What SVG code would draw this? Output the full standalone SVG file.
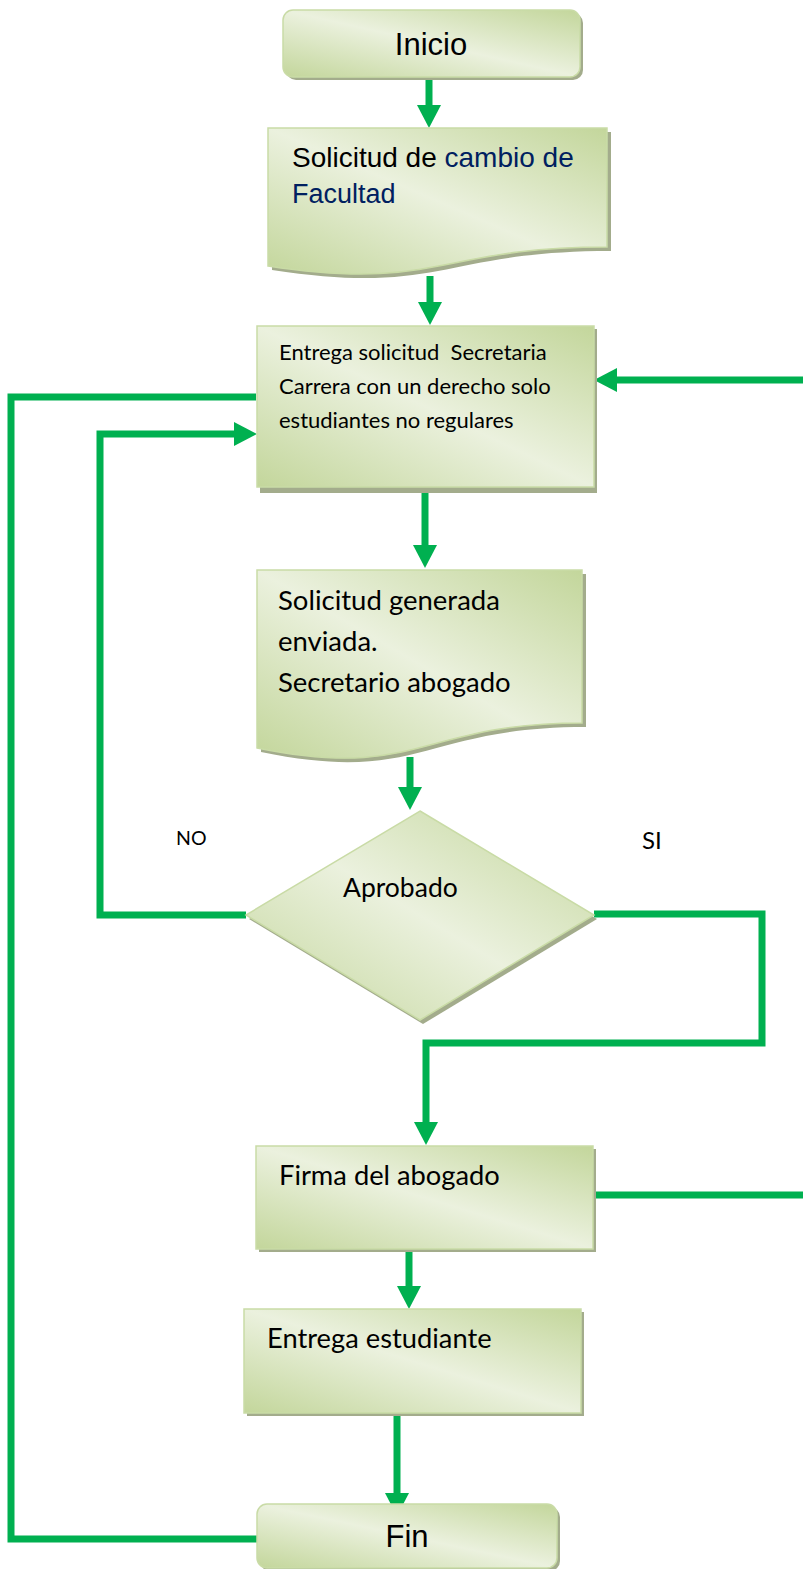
<svg xmlns="http://www.w3.org/2000/svg" width="803" height="1569" viewBox="0 0 803 1569">
  <defs>
    <linearGradient id="fillGreen" x1="1" y1="0" x2="0" y2="1">
      <stop offset="0" stop-color="#c3d69b"/>
      <stop offset="0.5" stop-color="#ebf1de"/>
      <stop offset="1" stop-color="#c3d69b"/>
    </linearGradient>
    <marker id="head" markerUnits="userSpaceOnUse" markerWidth="24" markerHeight="24" refX="2" refY="12" orient="auto" overflow="visible">
      <path d="M0,0 L23,12 L0,24 Z" fill="#00b050"/>
    </marker>
  </defs>
  <style>
    .shape { fill: url(#fillGreen); stroke: #c9dba6; stroke-width: 1.5; }
    .shadow { fill: #a3ac8c; }
    .flow { fill: none; stroke: #00b050; stroke-width: 7; stroke-linejoin: miter; stroke-linecap: butt; }
    .arial { font-family: "Liberation Sans", Arial, sans-serif; fill: #000; }
    .cal { font-family: Lato, "Liberation Sans", sans-serif; fill: #000; white-space: pre; }
    .navy { fill: #002060; }
  </style>

  <rect width="803" height="1569" fill="#ffffff"/>

  <!-- connectors -->
  <g id="connectors">
    <path class="flow" d="M429,77 V107" marker-end="url(#head)"/>
    <path class="flow" d="M430,276 V304" marker-end="url(#head)"/>
    <path class="flow" d="M803,380 H615" marker-end="url(#head)"/>
    <path class="flow" d="M256,397 H11 V1539 H257"/>
    <path class="flow" d="M246,915 H100 V434 H236" marker-end="url(#head)"/>
    <path class="flow" d="M425,487 V547" marker-end="url(#head)"/>
    <path class="flow" d="M410,757 V789" marker-end="url(#head)"/>
    <path class="flow" d="M594,914 H762 V1043 H426 V1124" marker-end="url(#head)"/>
    <path class="flow" d="M594,1195 H803"/>
    <path class="flow" d="M409,1249 V1288" marker-end="url(#head)"/>
    <path class="flow" d="M397,1414 V1495" marker-end="url(#head)"/>
  </g>

  <!-- start terminator -->
  <g id="inicio">
    <rect class="shadow" x="286" y="13" width="297" height="67" rx="10"/>
    <rect class="shape" x="283" y="10" width="297" height="67" rx="10"/>
    <text class="arial" x="431" y="55" font-size="31" text-anchor="middle">Inicio</text>
  </g>

  <!-- request document -->
  <g id="solicitud">
    <path class="shadow" d="M272,132 H611 V251 C441.5,251 441.5,296 272,270 Z"/>
    <path class="shape" d="M268,128 H607 V247 C437.5,247 437.5,292 268,266 Z"/>
    <text class="arial" font-size="28" x="292" y="167">Solicitud de <tspan class="navy">cambio de</tspan></text>
    <text class="arial navy" font-size="27" x="292" y="203">Facultad</text>
  </g>

  <!-- delivery to the secretary -->
  <g id="entrega-solicitud">
    <rect class="shadow" x="260" y="329" width="337" height="164"/>
    <rect class="shape" x="257" y="326" width="337" height="161"/>
    <text class="cal" font-size="22" x="279" y="360" xml:space="preserve">Entrega solicitud  Secretaria</text>
    <text class="cal" font-size="22" x="279" y="394">Carrera con un derecho solo</text>
    <text class="cal" font-size="22" x="279" y="428">estudiantes no regulares</text>
  </g>

  <!-- generated request document -->
  <g id="solicitud-generada">
    <path class="shadow" d="M261,574 H586 V727 C421.5,727 421.5,785 261,752 Z"/>
    <path class="shape" d="M257,570 H582 V723 C419.5,723 419.5,781 257,748 Z"/>
    <text class="cal" font-size="27.5" x="278" y="610">Solicitud generada</text>
    <text class="cal" font-size="27.5" x="278" y="651">enviada.</text>
    <text class="cal" font-size="27.5" x="278" y="692">Secretario abogado</text>
  </g>

  <!-- decision -->
  <g id="aprobado">
    <path class="shadow" d="M422,815 L597,919 L423,1024 L249,919 Z"/>
    <path class="shape" d="M420,811 L594,915 L420,1020 L246,915 Z"/>
    <text class="cal" font-size="26.5" x="343" y="897">Aprobado</text>
  </g>

  <!-- branch labels -->
  <g id="labels">
    <text class="cal" font-size="19.5" x="176" y="845">NO</text>
    <text class="cal" font-size="24" x="642" y="849">SI</text>
  </g>

  <!-- lawyer signature -->
  <g id="firma">
    <rect class="shadow" x="259" y="1149" width="337" height="103"/>
    <rect class="shape" x="256" y="1146" width="337" height="103"/>
    <text class="cal" font-size="27.3" x="279" y="1185">Firma del abogado</text>
  </g>

  <!-- handed to the student -->
  <g id="entrega-estudiante">
    <rect class="shadow" x="247" y="1312" width="337" height="104"/>
    <rect class="shape" x="244" y="1309" width="337" height="104"/>
    <text class="cal" font-size="27.3" x="267" y="1348">Entrega estudiante</text>
  </g>

  <!-- end terminator -->
  <g id="fin">
    <rect class="shadow" x="260" y="1507" width="300" height="64" rx="10"/>
    <rect class="shape" x="257" y="1504" width="300" height="64" rx="10"/>
    <text class="arial" x="407" y="1547" font-size="31" text-anchor="middle">Fin</text>
  </g>
</svg>
